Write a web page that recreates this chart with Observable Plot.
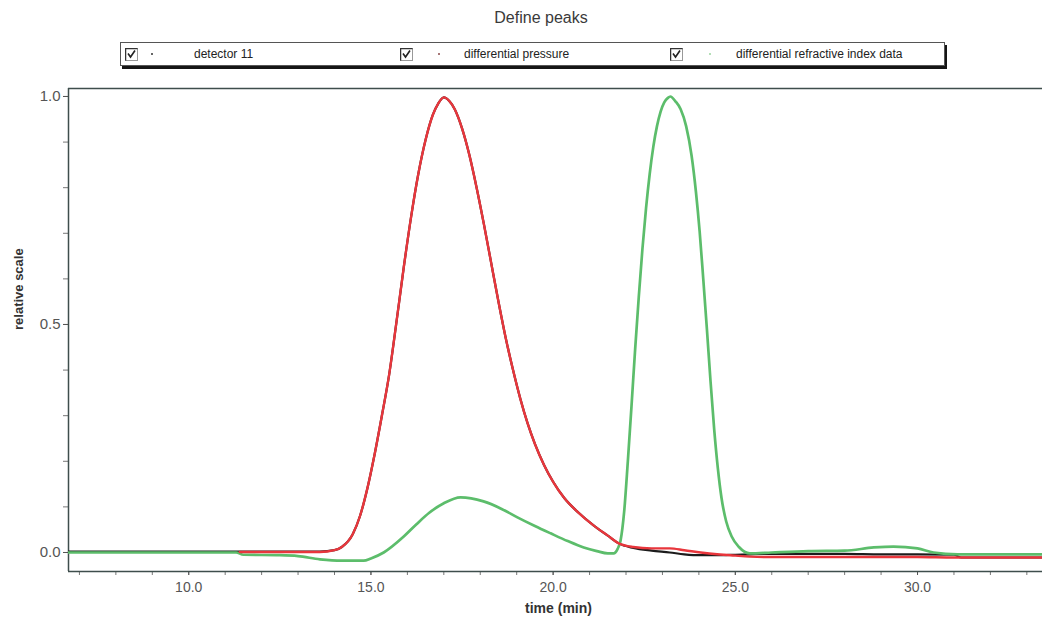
<!DOCTYPE html>
<html>
<head>
<meta charset="utf-8">
<script src="https://cdn.jsdelivr.net/npm/d3@7"></script>
<script src="https://cdn.jsdelivr.net/npm/@observablehq/plot@0.6"></script>
<style>
  html, body { margin: 0; padding: 0; background: #fff; }
  body { width: 1042px; height: 621px; overflow: hidden; font-family: "Liberation Sans", Arial, sans-serif; }
  #header { position: relative; width: 1042px; height: 70px; }
  #title { position: absolute; top: 9px; left: 541px; transform: translateX(-50%); font-size: 16px; color: #3a3a3a; white-space: nowrap; }
  #legend { position: absolute; left: 120px; top: 42px; width: 823px; height: 22px; border: 1px solid #555; box-shadow: 2px 3px 0 #151515; background: #fff; }
  .box { position: absolute; top: 5px; }
  .dot { position: absolute; top: 10px; width: 2px; height: 2px; border-radius: 1px; }
  .lbl { position: absolute; top: 4px; font-size: 12px; color: #222; white-space: nowrap; }
</style>
</head>
<body>
<div id="header">
  <div id="title"></div>
  <div id="legend"></div>
</div>
<div id="chart"></div>
<script>
// Chart title and legend
const chartTitle = "Define peaks";
const legendLabels = ["detector 11", "differential pressure", "differential refractive index data"];
const seriesColors = ["#1c1c1c", "#e8363c", "#5cbd6b"];
const legendDotColors = ["#333", "#8a4a4a", "#9ad59f"];

// Axis ticks
const xMajorTicks = [10, 15, 20, 25, 30];
const xMinorTicks = [7, 8, 9, 10, 11, 12, 13, 14, 15, 16, 17, 18, 19, 20, 21, 22, 23, 24, 25, 26, 27, 28, 29, 30, 31, 32, 33];
const yMajorTicks = [0, 0.5, 1.0];
const yMinorTicks = [0, 0.1, 0.2, 0.3, 0.4, 0.5, 0.6, 0.7, 0.8, 0.9, 1.0];
const xDomain = [6.7, 33.43];
const yDomain = [-0.0417, 1.0175];

// differential pressure, relative scale vs time (min)
const dpTime  = [11.4, 12.0, 13.0, 13.6, 14.0, 14.2, 14.5, 14.7, 14.9, 15.1, 15.3, 15.5, 15.7, 15.9, 16.1, 16.3, 16.5, 16.7, 16.85, 17.0, 17.15, 17.3, 17.5, 17.7, 17.9, 18.1, 18.3, 18.5, 18.7, 18.9, 19.1, 19.3, 19.5, 19.75, 20.0, 20.3, 20.7, 21.1, 21.5, 21.8, 22.2, 22.7, 23.2, 23.6, 24.05, 24.5, 25.0, 25.4, 26.0, 28.0, 30.0, 31.0, 32.0, 33.5];
const dpValue = [0.001, 0.001, 0.001, 0.001, 0.005, 0.012, 0.04, 0.08, 0.14, 0.215, 0.30, 0.39, 0.505, 0.625, 0.735, 0.83, 0.905, 0.96, 0.985, 0.998, 0.99, 0.972, 0.93, 0.872, 0.8, 0.72, 0.635, 0.55, 0.47, 0.4, 0.337, 0.283, 0.238, 0.192, 0.155, 0.12, 0.087, 0.06, 0.037, 0.02, 0.012, 0.009, 0.009, 0.005, 0.0, -0.004, -0.007, -0.009, -0.01, -0.01, -0.01, -0.011, -0.011, -0.011];

// detector 11
const det11Time  = [6.7, 8.0, 9.0, 10.0, 11.0, 11.4, 12.0, 13.0, 13.6, 14.0, 14.2, 14.5, 14.7, 14.9, 15.1, 15.3, 15.5, 15.7, 15.9, 16.1, 16.3, 16.5, 16.7, 16.85, 17.0, 17.15, 17.3, 17.5, 17.7, 17.9, 18.1, 18.3, 18.5, 18.7, 18.9, 19.1, 19.3, 19.5, 19.75, 20.0, 20.3, 20.7, 21.1, 21.5, 21.8, 22.2, 22.7, 23.2, 23.6, 24.05, 24.5, 25.0, 25.4, 26.0, 27.0, 28.0, 29.0, 30.0, 31.0, 31.2, 32.0, 33.5];
const det11Value = [0.002, 0.002, 0.002, 0.002, 0.002, 0.002, 0.002, 0.002, 0.002, 0.005, 0.012, 0.04, 0.08, 0.14, 0.215, 0.30, 0.39, 0.505, 0.625, 0.735, 0.83, 0.905, 0.96, 0.985, 0.998, 0.99, 0.972, 0.93, 0.872, 0.8, 0.72, 0.635, 0.55, 0.47, 0.4, 0.337, 0.283, 0.238, 0.192, 0.155, 0.12, 0.087, 0.06, 0.037, 0.02, 0.01, 0.004, 0.0, -0.004, -0.006, -0.006, -0.005, -0.004, -0.003, -0.003, -0.003, -0.004, -0.004, -0.005, -0.011, -0.011, -0.011];

// differential refractive index data
const driTime  = [6.7, 8.0, 10.0, 11.3, 11.5, 12.5, 13.0, 13.6, 14.2, 14.8, 15.0, 15.35, 15.9, 16.25, 16.6, 17.0, 17.46, 18.09, 18.6, 19.02, 19.5, 19.93, 20.4, 20.84, 21.2, 21.5, 21.66, 21.77, 21.85, 21.95, 22.05, 22.15, 22.25, 22.35, 22.45, 22.55, 22.65, 22.75, 22.85, 22.95, 23.05, 23.15, 23.22, 23.35, 23.5, 23.65, 23.8, 23.92, 24.02, 24.12, 24.22, 24.32, 24.42, 24.52, 24.62, 24.75, 24.9, 25.1, 25.4, 26.0, 27.0, 28.0, 28.8, 29.34, 30.0, 30.44, 31.1, 32.0, 33.5];
const driValue = [0.0, 0.0, 0.0, 0.0, -0.005, -0.006, -0.008, -0.015, -0.018, -0.018, -0.013, 0.0, 0.035, 0.062, 0.087, 0.108, 0.121, 0.112, 0.095, 0.077, 0.058, 0.042, 0.025, 0.011, 0.003, -0.002, -0.002, 0.008, 0.026, 0.09, 0.2, 0.32, 0.445, 0.56, 0.665, 0.755, 0.83, 0.89, 0.935, 0.967, 0.987, 0.997, 1.0, 0.99, 0.972, 0.935, 0.87, 0.79, 0.705, 0.6, 0.49, 0.375, 0.27, 0.185, 0.12, 0.068, 0.035, 0.012, -0.002, 0.0, 0.003, 0.004, 0.011, 0.013, 0.009, 0.0, -0.004, -0.004, -0.004];

const toRows = (ts, vs) => ts.map((t, i) => ({t, v: vs[i]}));
const det11 = toRows(det11Time, det11Value);
const dp = toRows(dpTime, dpValue);
const dri = toRows(driTime, driValue);

// Header: title and checkbox legend
document.getElementById("title").textContent = chartTitle;
const legendOffsets = [[4, 30, 73], [279, 317, 343], [549, 588, 615]];
const legend = document.getElementById("legend");
legendLabels.forEach((name, i) => {
  const [bx, dx, tx] = legendOffsets[i];
  const box = document.createElementNS("http://www.w3.org/2000/svg", "svg");
  box.setAttribute("width", 13);
  box.setAttribute("height", 13);
  box.setAttribute("class", "box");
  box.style.left = bx + "px";
  box.innerHTML = '<rect x="0.5" y="0.5" width="12" height="12" fill="#fff" stroke="#999"/>' +
    '<path d="M0.5 12.5 V0.5 H12.5" fill="none" stroke="#333" stroke-width="1.5"/>' +
    '<path d="M3 5.5 L5.5 9 L10 2.5" fill="none" stroke="#222" stroke-width="1.6"/>';
  legend.appendChild(box);
  const dot = document.createElement("div");
  dot.className = "dot";
  dot.style.left = dx + "px";
  dot.style.background = legendDotColors[i];
  legend.appendChild(dot);
  const lbl = document.createElement("div");
  lbl.className = "lbl";
  lbl.style.left = tx + "px";
  lbl.textContent = name;
  legend.appendChild(lbl);
});

const frameStroke = "#3e4e4c";
const chart = Plot.plot({
  width: 1042,
  height: 551,
  marginLeft: 68,
  marginRight: 0,
  marginTop: 18,
  marginBottom: 50,
  style: {fontFamily: "'Liberation Sans', Arial, sans-serif", background: "#fff", overflow: "hidden"},
  x: {domain: xDomain, label: null},
  y: {domain: yDomain, label: null},
  marks: [
    // minor and major ticks
    Plot.axisX({ticks: xMinorTicks, tickSize: 4, tickFormat: () => "", stroke: "#777", label: null}),
    Plot.axisX({ticks: xMajorTicks, tickSize: 4, tickPadding: 7, tickFormat: d => d.toFixed(1), fontSize: 14, color: "#555", label: null}),
    Plot.axisY({ticks: yMinorTicks, tickSize: 5, tickFormat: () => "", stroke: "#777", label: null}),
    Plot.axisY({ticks: yMajorTicks, tickSize: 5, tickPadding: 3, tickFormat: d => d.toFixed(1), fontSize: 15, color: "#555", label: null}),
    // frame edges
    Plot.ruleY([yDomain[1]], {stroke: frameStroke, strokeWidth: 1.5}),
    Plot.ruleY([yDomain[0]], {stroke: frameStroke, strokeWidth: 1.5}),
    Plot.ruleX([xDomain[0]], {stroke: frameStroke, strokeWidth: 1.5}),
    // traces
    Plot.line(det11, {x: "t", y: "v", stroke: seriesColors[0], strokeWidth: 2.2, curve: "monotone-x", clip: true}),
    Plot.line(dri, {x: "t", y: "v", stroke: seriesColors[2], strokeWidth: 2.7, curve: "monotone-x", clip: true}),
    Plot.line(dp, {x: "t", y: "v", stroke: seriesColors[1], strokeWidth: 2.4, curve: "monotone-x", clip: true}),
    // axis titles
    Plot.text(["relative scale"], {text: d => d, frameAnchor: "left", dx: -50, rotate: -90, fontWeight: "bold", fontSize: 13, fill: "#333"}),
    Plot.text(["time (min)"], {text: d => d, frameAnchor: "bottom", dy: 41, dx: 3, fontWeight: "bold", fontSize: 14, fill: "#333"})
  ]
});
document.getElementById("chart").appendChild(chart);
</script>
</body>
</html>
